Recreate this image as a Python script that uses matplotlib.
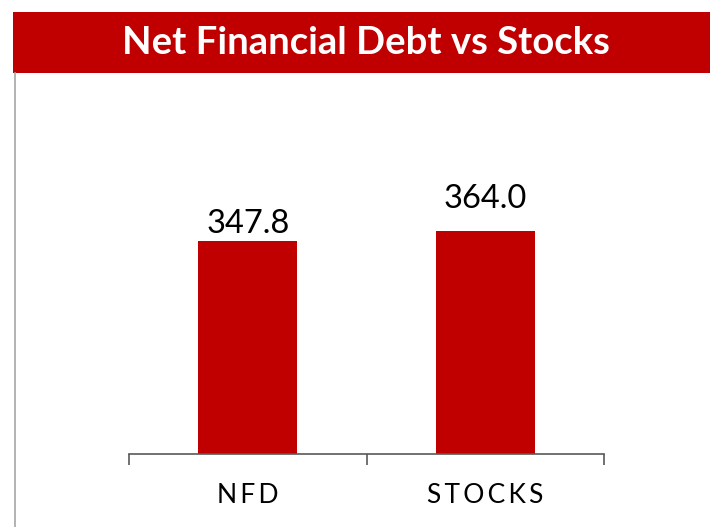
import matplotlib.pyplot as plt
from matplotlib.patches import Rectangle
from matplotlib.lines import Line2D

# data
categories = ["NFD", "STOCKS"]
values = [347.8, 364.0]
value_labels = ["347.8", "364.0"]
title = "Net Financial Debt vs Stocks"

RED = "#C00000"
plt.rcParams['font.family'] = ['Lato', 'DejaVu Sans']

fig = plt.figure(figsize=(7.1, 5.27), dpi=100)

# red title banner
fig.patches.append(Rectangle((12.7 / 710, 1 - 72.7 / 527), 1, (72.7 - 11.7) / 527,
                             transform=fig.transFigure, facecolor=RED,
                             edgecolor="none", zorder=0))
fig.text(365.5 / 710, 1 - 43.5 / 527, title, color="white", fontsize=27.5,
         fontweight="bold", ha="center", va="center")

# thin frame line on the left
fig.lines.append(Line2D([15 / 710, 15 / 710], [0, 1 - 73 / 527],
                        transform=fig.transFigure, color="#A6A6A6", lw=1.2))

ax = fig.add_axes([129 / 710, 1 - 454 / 527, 475 / 710, (454 - 74) / 527])
x = list(range(len(categories)))
ax.bar(x, values, width=0.418, color=RED, zorder=2)

# value labels above bars
label_pad = [8, 23]  # px gap above the bar top
for xi, v, lab, pad in zip(x, values, value_labels, label_pad):
    ax.annotate(lab, (xi, v), xytext=(0, pad * 0.72), textcoords="offset points",
                ha="center", va="baseline", fontsize=23.5, color="black")

ax.set_xlim(-0.5, len(categories) - 0.5)
ax.set_ylim(0, 620)

for s in ["top", "right", "left"]:
    ax.spines[s].set_visible(False)
ax.spines["bottom"].set_color("#595959")
ax.spines["bottom"].set_linewidth(1.2)
ax.set_yticks([])

# boundary tick marks, labels centred on categories
ax.set_xticks([i - 0.5 for i in range(len(categories) + 1)])
ax.set_xticklabels([])
ax.tick_params(axis="x", which="major", direction="out", length=8,
               width=1.2, color="#595959")
ax.set_xticks(x, minor=True)
ax.set_xticklabels(["\u2009".join(c) for c in categories], minor=True)
ax.tick_params(axis="x", which="minor", length=0, pad=21, labelsize=19,
               labelcolor="black")

fig.savefig("out.png", dpi=100)
